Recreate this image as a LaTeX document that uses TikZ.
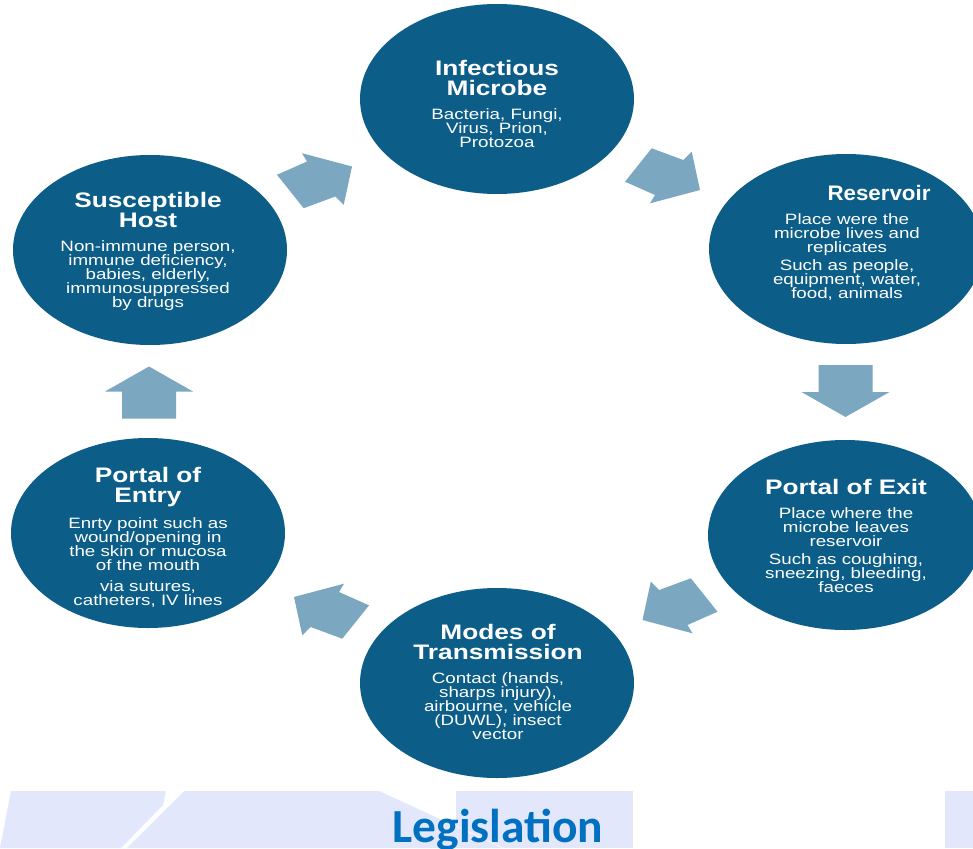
\documentclass[tikz,border=0pt]{standalone}
\usepackage{fontspec}
\usepackage{graphicx}
\setmainfont{Liberation Sans}[FakeStretch=1.25]
\newfontfamily\legfont{Carlito}
\usetikzlibrary{shapes.geometric,calc}

\definecolor{stageblue}{RGB}{12,94,136}
\definecolor{arrowfill}{RGB}{124,167,192}
\definecolor{bandfill}{RGB}{226,231,251}
\definecolor{legblue}{RGB}{0,112,192}

\newcommand\ctitle{\fontsize{21}{20}\selectfont\bfseries}
\newcommand\cbody{\fontsize{15}{14}\selectfont\mdseries}
\newcommand\stagetext[2]{\parbox{270pt}{\centering\color{white}\ctitle #1\par\vspace{10pt}\cbody #2\par}}

\tikzset{
  stage/.style={ellipse, fill=stageblue, minimum width=274pt, minimum height=190pt, inner sep=0pt},
  stagelabel/.style={inner sep=0pt},
  band/.style={fill=bandfill},
  cyclearrow/.pic={\fill[arrowfill] (-19.8,-28.7) -- (11.8,-17) -- (20.2,-25.3) -- (28.5,13)
      -- (-21.5,26.3) -- (-16.5,18) -- (-46.5,4.7) -- cycle;},
  droparrow/.pic={\fill[arrowfill] (-27,-27) -- (27,-27) -- (27,0) -- (44,0) -- (0,25)
      -- (-44,0) -- (-27,0) -- cycle;}
}

\begin{document}
\begin{tikzpicture}[x=1pt,y=-1pt]
\useasboundingbox (0,0) rectangle (973,848);
\fill[white] (0,0) rectangle (973,848);

% pale bands along the bottom edge
\fill[band] (11,791) -- (166,791) -- (163,805) -- (121,848) -- (0,848) -- cycle;
\fill[band] (184,791) -- (379,791) -- (503,848) -- (127,848) -- cycle;
\fill[band] (456,791) rectangle (633,848);
\draw[white, opacity=0.6, line width=1pt] (456,826) -- (503,848);
\fill[band] (945,791) rectangle (973,848);

% the six stages of the cycle
\node[stage] (microbe)   at (497,99)  {};
\node[stage] (reservoir) at (846,249) {};
\node[stage] (exit)      at (845,535) {};
\node[stage] (modes)     at (497,683) {};
\node[stage] (entry)     at (148,533) {};
\node[stage] (host)      at (150,250) {};

\node[stagelabel] (microbe-text) at (497,104)
  {\stagetext{Infectious\\Microbe}{Bacteria, Fungi,\\Virus, Prion,\\Protozoa}};
\node[stagelabel] (reservoir-text) at (847,243)
  {\stagetext{\hspace*{64pt}\scalebox{0.85}[1]{Reservoir}}{Place were the\\microbe lives and\\replicates\\[4pt]Such as people,\\equipment, water,\\food, animals}};
\node[stagelabel] (exit-text) at (846,536)
  {\stagetext{Portal of Exit}{Place where the\\microbe leaves\\reservoir\\[4pt]Such as coughing,\\sneezing, bleeding,\\faeces}};
\node[stagelabel] (modes-text) at (498,682)
  {\stagetext{Modes of\\Transmission}{Contact (hands,\\sharps injury),\\airbourne, vehicle\\(DUWL), insect\\vector}};
\node[stagelabel] (entry-text) at (148,537)
  {\stagetext{Portal of\\Entry}{Enrty point such as\\wound/opening in\\the skin or mucosa\\of the mouth\\[7pt]via sutures,\\catheters, IV lines}};
\node[stagelabel] (host-text) at (148,251)
  {\stagetext{Susceptible\\Host}{Non-immune person,\\immune deficiency,\\babies, elderly,\\immunosuppressed\\by drugs}};

% block arrows between consecutive stages
\pic[yscale=-1] (a1) at ($(host)!0.5!(microbe)+(0,5)$) {cyclearrow};
\pic (a2) at ($(microbe)!0.5!(reservoir)+(0,3)$) {cyclearrow};
\pic (a3) at ($(reservoir)!0.5!(exit)$) {droparrow};
\pic[xscale=-1] (a4) at ($(exit)!0.5!(modes)+(0,-2)$) {cyclearrow};
\pic[xscale=-1,yscale=-1] (a5) at ($(modes)!0.5!(entry)+(0,2)$) {cyclearrow};
\pic[rotate=180] (a6) at ($(entry)!0.5!(host)$) {droparrow};

\node[anchor=base, inner sep=0pt, text=legblue,
      font=\legfont\fontsize{47.5}{47.5}\selectfont\bfseries] (legislation) at (498,842) {Legislation};
\end{tikzpicture}
\end{document}
